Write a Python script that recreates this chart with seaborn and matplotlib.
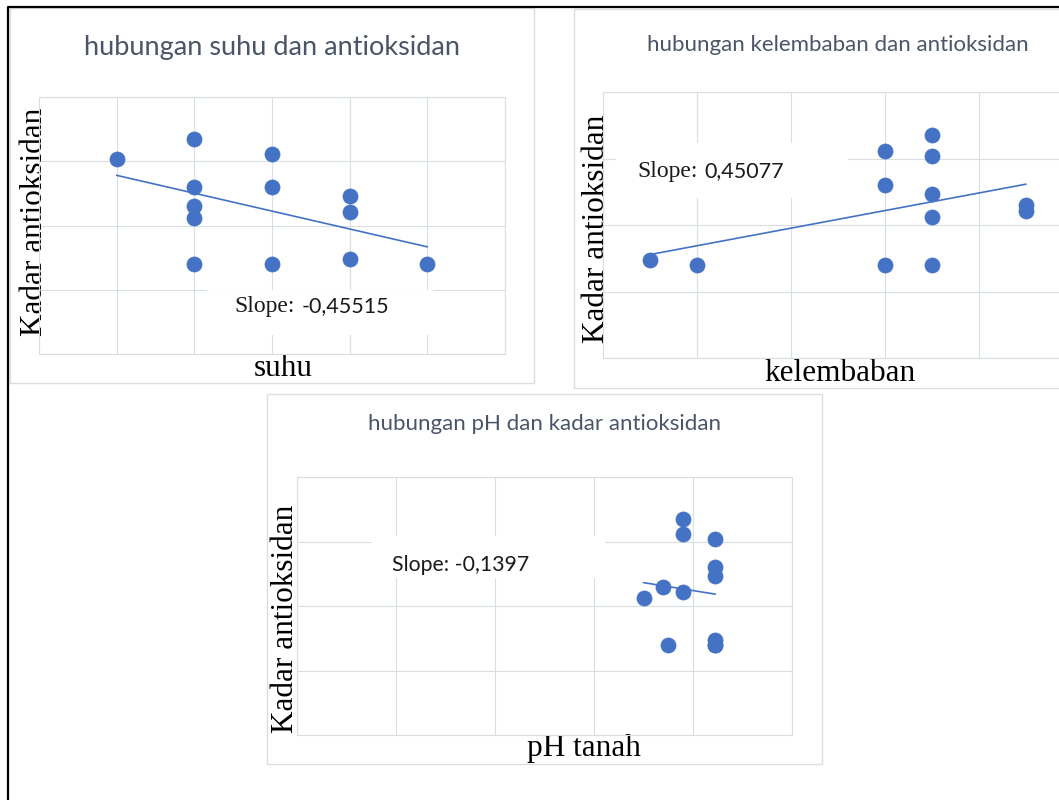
import matplotlib.pyplot as plt
import matplotlib.patches as mpatches
import matplotlib.lines as mlines
import seaborn as sns
import pandas as pd
import numpy as np

# --- data ---
suhu = [25, 26, 26, 26, 26, 26, 27, 27, 27, 28, 28, 28, 29]
kadar_suhu = [3.04, 3.35, 2.60, 2.30, 2.12, 1.40, 3.11, 2.60, 1.40, 2.46, 2.21, 1.48, 1.40]

kelembaban = [45, 50, 70, 70, 70, 75, 75, 75, 75, 75, 85, 85]
kadar_lembab = [1.48, 1.40, 3.11, 2.60, 1.40, 3.35, 3.04, 2.46, 2.12, 1.40, 2.30, 2.21]

ph = [7.8, 7.8, 8.45, 8.45, 8.45, 7.4, 7.8, 7.0, 7.5, 8.45, 8.45, 8.45]
kadar_ph = [3.35, 3.11, 3.04, 2.60, 2.46, 2.30, 2.21, 2.12, 1.40, 1.48, 1.40, 1.40]

titles = ["hubungan suhu dan antioksidan",
          "hubungan kelembaban dan antioksidan",
          "hubungan pH dan kadar antioksidan"]
xlabels = ["suhu", "kelembaban", "pH tanah"]
ylabel = "Kadar antioksidan"
slopes = ["-0,45515", "0,45077", "-0,1397"]

W, H = 1059, 800
BLUE = "#4472C4"
GRID = "#D9DDE4"
TITLE_C = "#4A5568"
TXT = "#1a1a1a"
SERIF = ["Liberation Serif", "DejaVu Serif"]
SANS = ["Lato", "DejaVu Sans"]

sns.set_style("whitegrid", {"grid.color": GRID, "axes.edgecolor": GRID})
plt.rcParams["font.family"] = SANS

fig = plt.figure(figsize=(W / 100, H / 100), dpi=100)


def frac_rect(x0, y0, x1, y1):
    return [x0 / W, 1 - y1 / H, (x1 - x0) / W, (y1 - y0) / H]


def fig_box(x0, y0, x1, y1, edge, z):
    l, b, w, h = frac_rect(x0, y0, x1, y1)
    fig.add_artist(mpatches.Rectangle((l, b), w, h, transform=fig.transFigure,
                                      facecolor="white", edgecolor=edge, lw=1, zorder=z))


def panel(pos_px, df, xcol, xticks):
    ax = fig.add_axes(frac_rect(*pos_px))
    sns.regplot(data=df, x=xcol, y="kadar", ax=ax, ci=None, color=BLUE,
                scatter_kws={"s": 118, "alpha": 1, "edgecolor": BLUE,
                             "linewidths": 0.5, "zorder": 3},
                line_kws={"lw": 1.2, "zorder": 2})
    ax.set_xlim(xticks[0], xticks[-1])
    ax.set_ylim(0, 4)
    ax.set_xticks(xticks)
    ax.set_yticks(range(5))
    ax.tick_params(length=0, labelbottom=False, labelleft=False)
    ax.set_facecolor("none")
    ax.grid(True, color=GRID, lw=0.8)
    for s in ax.spines.values():
        s.set_color(GRID)
        s.set_linewidth(0.8)
    return ax


def labels(ax, pos_px, xlab, xlab_px, ylab_px):
    # label positions are given as pixel (centre x, baseline y) / (baseline x, centre y)
    x0, y0, x1, y1 = pos_px
    to_ax = lambda px, py: ((px - x0) / (x1 - x0), (y1 - py) / (y1 - y0))
    ax.set_xlabel(xlab, fontsize=22.5, family=SERIF, color="black", va="baseline")
    ax.set_ylabel(ylabel, fontsize=22.5, family=SERIF, color="black", va="baseline")
    ax.xaxis.set_label_coords(*to_ax(*xlab_px))
    ax.yaxis.set_label_coords(*to_ax(*ylab_px))


# outer chart frames (Excel chart areas)
fig_box(10, 8, 534, 383, GRID, -2)
fig_box(574, 9, 1090, 388, GRID, -2)
fig_box(267, 394, 822, 764, GRID, -2)

# chart 1: suhu
pos1 = (39, 97, 505, 354)
ax1 = panel(pos1, pd.DataFrame({"suhu": suhu, "kadar": kadar_suhu}), "suhu",
            np.arange(24, 31, 1))
labels(ax1, pos1, xlabels[0], (283, 376), (42, 222))

# chart 2: kelembaban (plot area runs past the right edge of the picture)
pos2 = (603, 92, 1073, 358)
ax2 = panel(pos2, pd.DataFrame({"kelembaban": kelembaban, "kadar": kadar_lembab}),
            "kelembaban", np.arange(40, 91, 10))
labels(ax2, pos2, xlabels[1], (840, 381), (604, 229))

# chart 3: pH
pos3 = (297, 477, 792, 735)
ax3 = panel(pos3, pd.DataFrame({"ph": ph, "kadar": kadar_ph}), "ph",
            np.arange(0, 11, 2))
labels(ax3, pos3, xlabels[2], (584, 756), (293, 619))

# titles
fig.text(272 / W, 1 - 47 / H, titles[0], ha="center", va="center",
         fontsize=19.5, color=TITLE_C, family=SANS)
fig.text(838 / W, 1 - 45 / H, titles[1], ha="center", va="center",
         fontsize=16, color=TITLE_C, family=SANS)
fig.text(544 / W, 1 - 424 / H, titles[2], ha="center", va="center",
         fontsize=16, color=TITLE_C, family=SANS)

# white boxes behind the slope labels (they hide the gridlines)
fig_box(207, 290, 433, 335, "none", 1)
fig_box(616, 143, 848, 198, "none", 1)
fig_box(372, 536, 605, 578, "none", 1)

# slope labels: "Slope:" in serif, number in sans, as in the screenshot
fig.text(234 / W, 1 - 312 / H, "Slope:", fontsize=17, family=SERIF, color=TXT, va="baseline")
fig.text(302 / W, 1 - 312 / H, slopes[0], fontsize=15.5, family=SANS, color=TXT, va="baseline")
fig.text(637 / W, 1 - 177 / H, "Slope:", fontsize=17, family=SERIF, color=TXT, va="baseline")
fig.text(704 / W, 1 - 177 / H, slopes[1], fontsize=15.5, family=SANS, color=TXT, va="baseline")
fig.text(392 / W, 1 - 571 / H, "Slope: " + slopes[2], fontsize=15.3, family=SANS,
         color=TXT, va="baseline")

# black frame line along top and left of the screenshot
fig.add_artist(mlines.Line2D([8 / W, 8 / W, 1], [0, 1 - 7 / H, 1 - 7 / H],
                             transform=fig.transFigure, color="black", lw=1.6))

fig.savefig("out.png", dpi=100)
